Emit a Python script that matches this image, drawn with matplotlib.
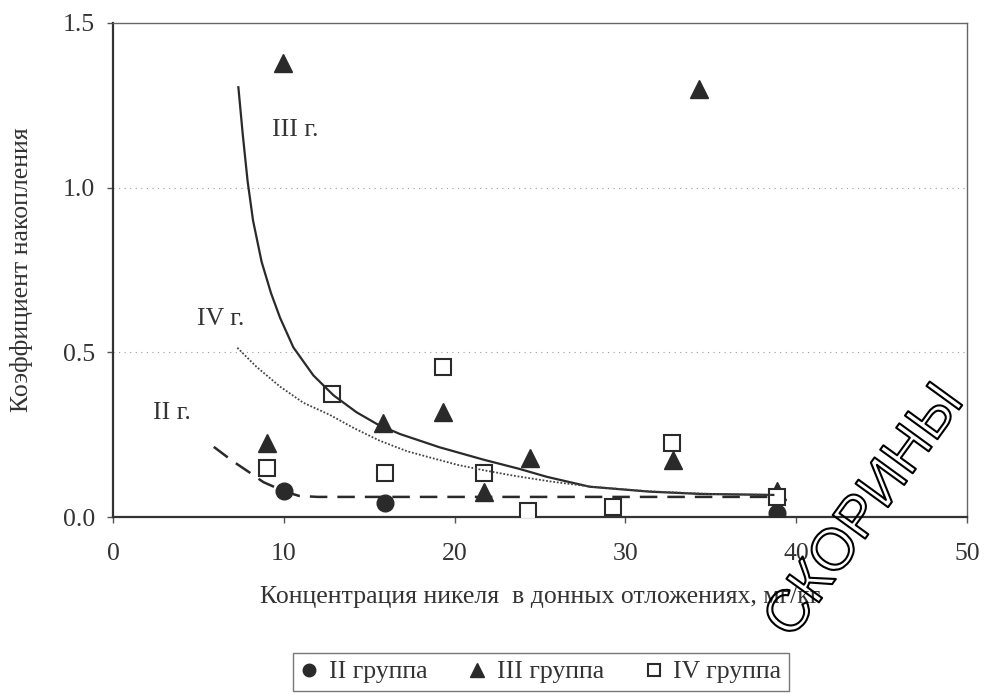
import matplotlib
matplotlib.use("Agg")
import matplotlib.pyplot as plt
import matplotlib.patheffects as pe

plt.rcParams['font.family'] = ['Liberation Serif', 'DejaVu Serif']

# measured points (x - mg/kg, y - accumulation coefficient)
grp2_x = [10.0, 15.9, 38.9]
grp2_y = [0.080, 0.042, 0.012]

grp3_x = [9.95, 34.3, 9.0, 15.8, 19.3, 21.7, 24.4, 32.8, 38.9]
grp3_y = [1.38, 1.30, 0.225, 0.285, 0.32, 0.076, 0.18, 0.173, 0.078]

grp4_x = [9.0, 12.8, 15.9, 19.3, 21.7, 24.3, 29.3, 32.7, 38.9]
grp4_y = [0.149, 0.373, 0.134, 0.455, 0.134, 0.018, 0.031, 0.224, 0.061]

# trend lines
trend3_x = [7.34, 7.6, 7.88, 8.2, 8.7, 9.25, 9.78, 10.56, 11.73, 12.9, 14.26, 15.53, 16.8,
            19.1, 21.7, 23.8, 25.4, 27.9, 31.4, 34.4, 38.66]
trend3_y = [1.305, 1.16, 1.02, 0.9, 0.775, 0.68, 0.605, 0.515, 0.43, 0.37, 0.318, 0.28, 0.252,
            0.212, 0.174, 0.146, 0.122, 0.092, 0.077, 0.07, 0.067]

trend4_x = [7.28, 8.4, 9.78, 11.14, 12.7, 14.1, 15.6, 17.2, 18.75, 20.2, 21.7, 23.5, 25.6, 28.0,
            31.4, 35.0, 38.6]
trend4_y = [0.514, 0.456, 0.396, 0.347, 0.31, 0.27, 0.232, 0.2, 0.178, 0.158, 0.142, 0.125, 0.108,
            0.092, 0.078, 0.07, 0.067]

trend2_x = [5.9, 7.0, 8.0, 8.8, 9.5, 10.2, 10.9, 12.0, 20.0, 30.0, 38.6]
trend2_y = [0.213, 0.17, 0.135, 0.106, 0.09, 0.075, 0.064, 0.061, 0.061, 0.061, 0.061]

xticks = [0, 10, 20, 30, 40, 50]
yticks = [0.0, 0.5, 1.0, 1.5]

ink = '#2a2a2a'
txt = '#333333'
fs = 18.5

fig = plt.figure(figsize=(9.84, 6.94), dpi=100)
ax = fig.add_axes([113 / 984, 1 - 517 / 694, (967 - 113) / 984, (517 - 23) / 694])

ax.set_xlim(0, 50)
ax.set_ylim(0, 1.5)
ax.set_xticks(xticks)
ax.set_yticks(yticks)
ax.set_yticklabels([f"{v:.1f}" for v in yticks])

for yv in [0.5, 1.0]:
    ax.axhline(yv, color='#9a9a9a', lw=0.8, ls=(0, (1, 4)), zorder=1)

# markers
ax.plot(grp2_x, grp2_y, 'o', ms=12, color=ink, ls='none', zorder=3, label='II группа')
ax.plot(grp3_x, grp3_y, '^', ms=13, color=ink, ls='none', zorder=3, label='III группа')
ax.plot(grp4_x, grp4_y, 's', ms=12, mfc='white', mec=ink, mew=1.5, ls='none', zorder=4,
        label='IV группа')

# trend lines
ax.plot(trend3_x, trend3_y, '-', color=ink, lw=1.6, zorder=5)
ax.plot(trend4_x, trend4_y, color='#444444', lw=1.3, ls=(0, (1, 1)), zorder=5)
ax.plot(trend2_x, trend2_y, color=ink, lw=1.8, ls=(0, (7, 4)), zorder=5)

ax.text(9.3, 1.175, 'III г.', fontsize=fs, color=txt, va='center')
ax.text(4.9, 0.6, 'IV г.', fontsize=fs, color=txt, va='center')
ax.text(2.35, 0.316, 'II г.', fontsize=fs, color=txt, va='center')

for side in ['left', 'bottom']:
    ax.spines[side].set_linewidth(1.6)
    ax.spines[side].set_color('#333333')
for side in ['top', 'right']:
    ax.spines[side].set_linewidth(1.0)
    ax.spines[side].set_color('#666666')

ax.tick_params(direction='out', length=4, width=1, colors='#555555', labelsize=fs,
               labelcolor=txt)
ax.tick_params(axis='x', pad=15)
ax.tick_params(axis='y', pad=9)

fig.text(22 / 984, 1 - 270 / 694, 'Коэффициент накопления', rotation=90,
         ha='center', va='center', fontsize=fs, color=txt)
fig.text(540 / 984, 1 - 603 / 694, 'Концентрация никеля  в донных отложениях, мг/кг',
         ha='center', va='baseline', fontsize=fs, color=txt)

leg = fig.legend(loc='center', bbox_to_anchor=(541 / 984, 1 - 672 / 694), ncol=3,
                 fontsize=fs, frameon=True, fancybox=False, handlelength=0.7,
                 handletextpad=0.4, columnspacing=1.6, markerscale=0.75,
                 borderpad=0.3)
leg.get_frame().set_edgecolor('#555555')
leg.get_frame().set_linewidth(1.0)
for t in leg.get_texts():
    t.set_color(txt)

# scan watermark
fig.text(866 / 984, 1 - 512 / 694, 'СКОРИНЫ', rotation=54, ha='center', va='center',
         fontsize=42, family='Liberation Sans', color=(1, 1, 1, 0),
         path_effects=[pe.Stroke(linewidth=1.5, foreground='black')], zorder=10)

fig.savefig('out.png', dpi=100)
